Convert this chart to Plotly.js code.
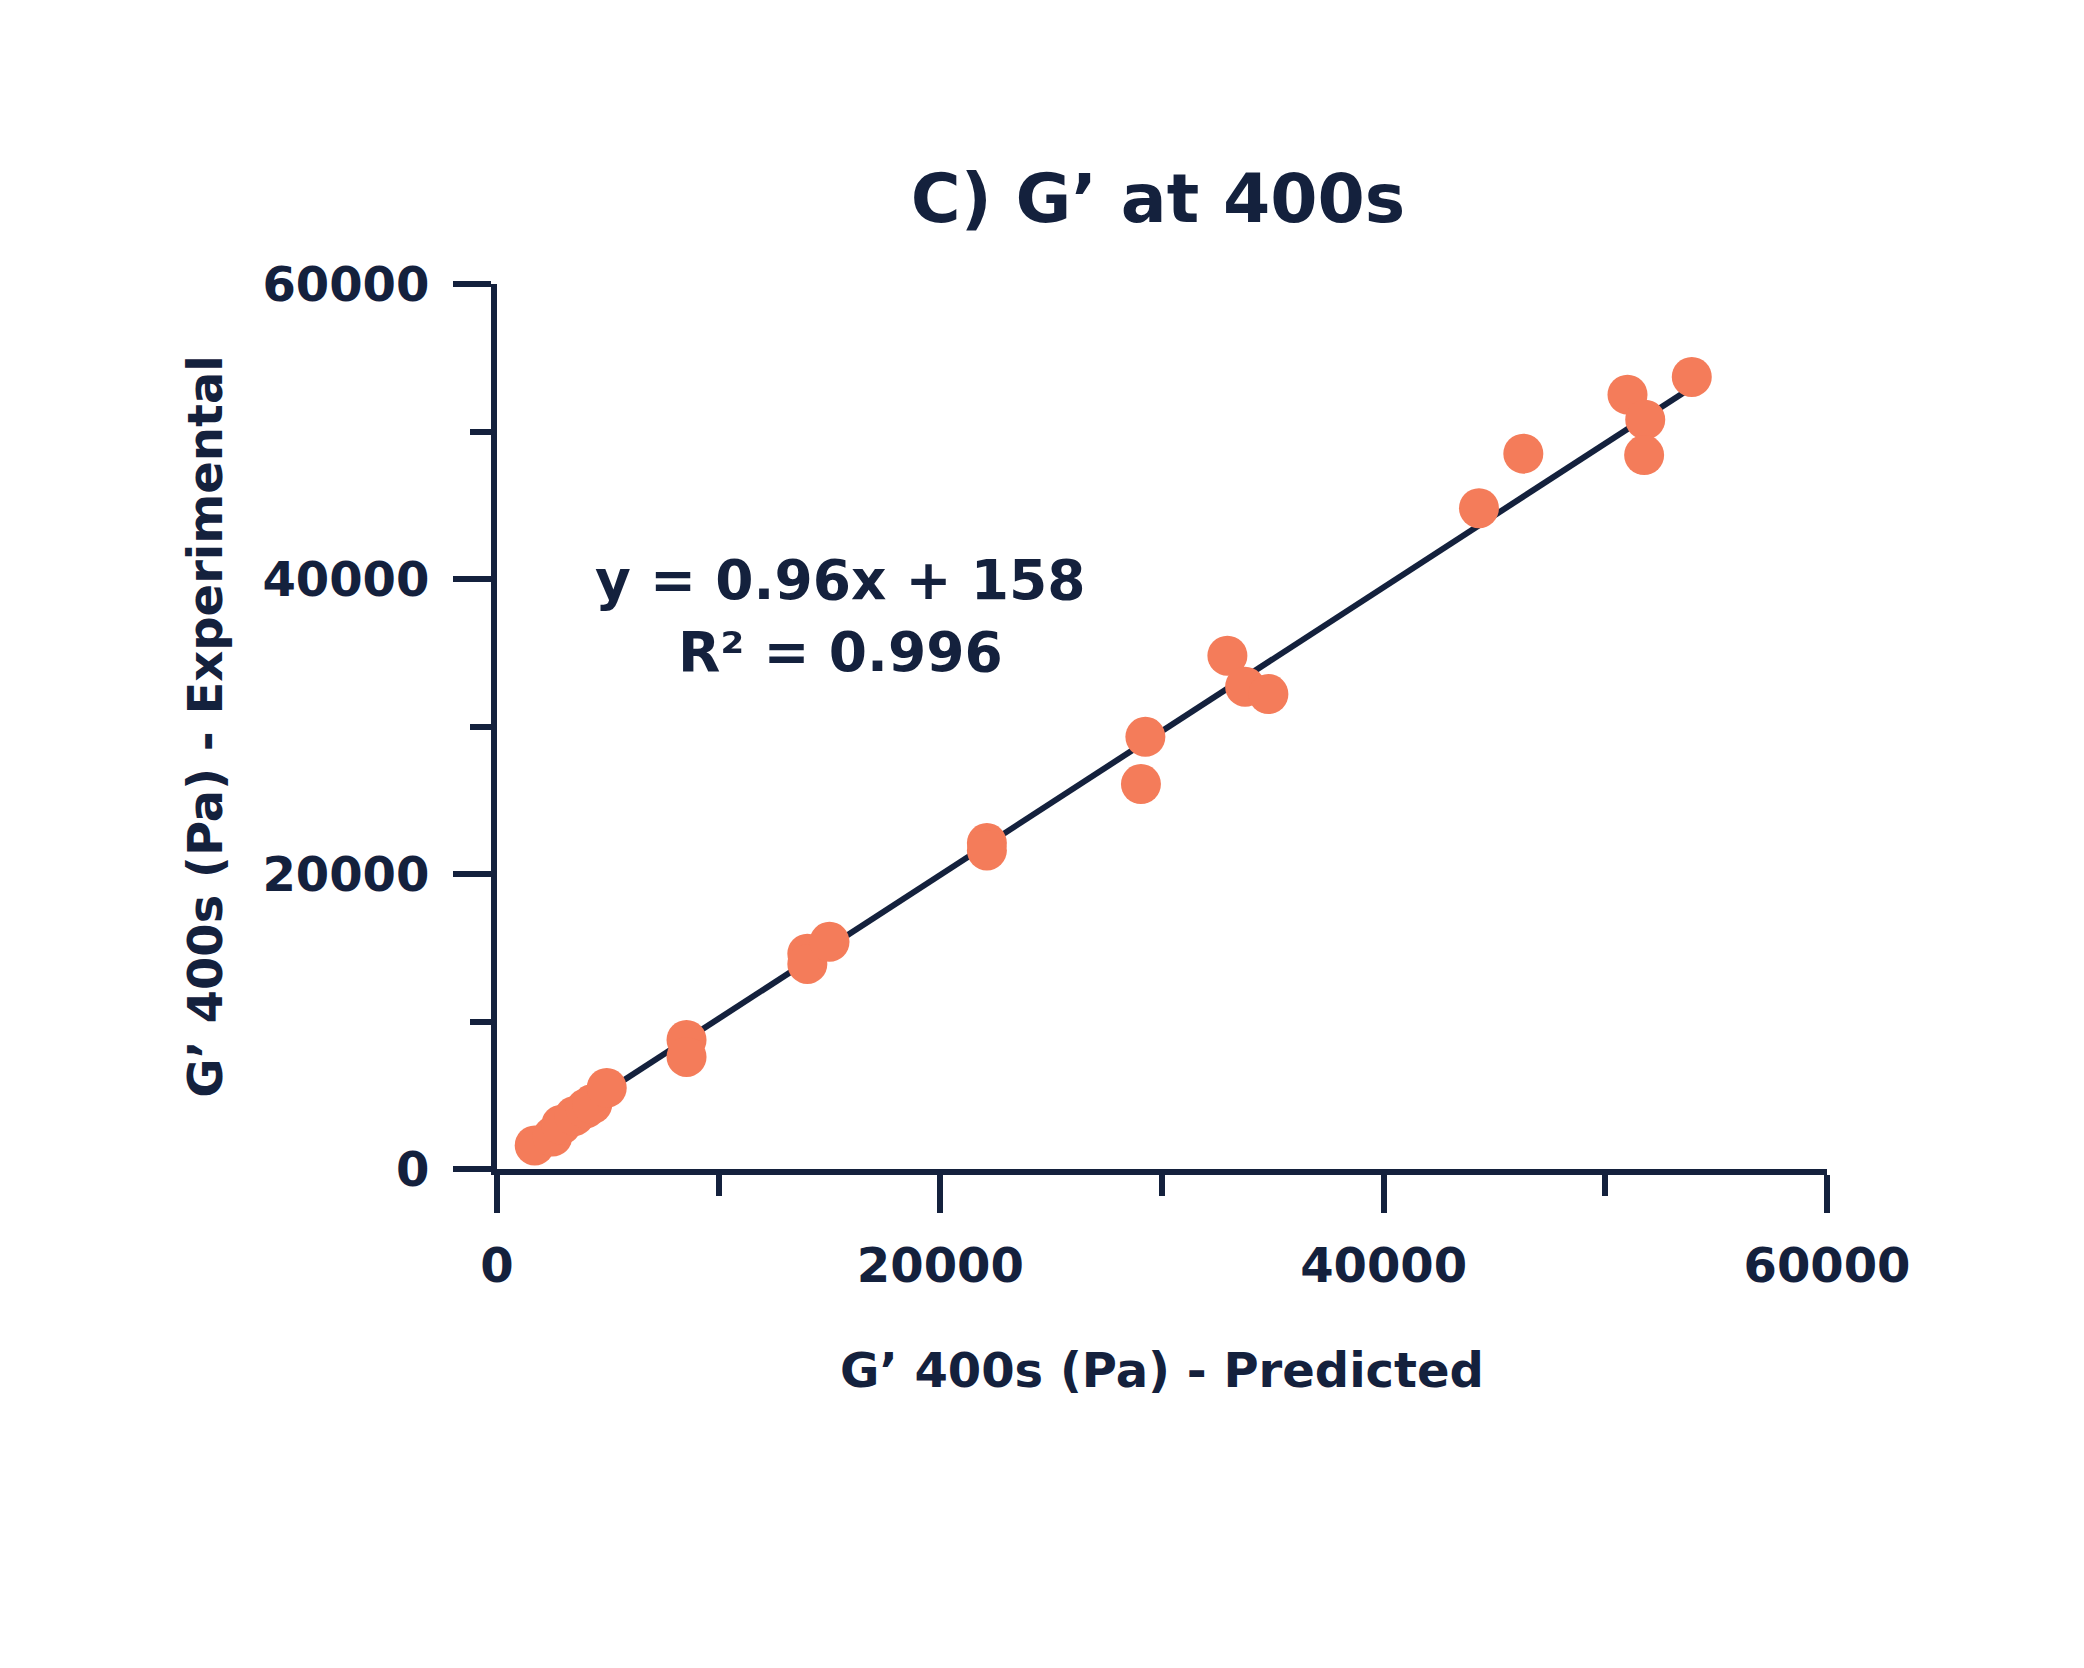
<!DOCTYPE html>
<html>
<head>
<meta charset="utf-8">
<script src="https://cdn.plot.ly/plotly-3.0.1.min.js"></script>
<style>
  html, body { margin: 0; padding: 0; background: #ffffff; }
  #chart { width: 2084px; height: 1668px; }
</style>
</head>
<body>
<div id="chart"></div>
<script>
// G' at 400s, predicted vs experimental (Pa)
var predicted = [
    1700, 2500, 2900, 3500, 4000, 4300, 4950,
    8550, 8550,
    14000, 14000, 15000,
    22100, 22100,
    29250, 29050,
    32950, 33750, 34800,
    44300, 46300, 51000, 51800, 51750, 53900
];
var experimental = [
    1600, 2200, 3000, 3600, 4100, 4400, 5500,
    8750, 7600,
    14600, 13900, 15400,
    22100, 21600,
    29300, 26100,
    34800, 32700, 32200,
    44800, 48500, 52500, 50800, 48400, 53700
];

// trend line as drawn in the picture
var fitX = [1700, 53650];
var fitY = [2100, 52750];

var fitLabel = 'y = 0.96x + 158<br>R² = 0.996';

var navy = '#14213d';
var coral = '#f47c5a';
var fontFamily = '"DejaVu Sans", "Open Sans", sans-serif';

var traceFit = {
    x: fitX,
    y: fitY,
    type: 'scatter',
    mode: 'lines',
    line: { color: navy, width: 6 },
    hoverinfo: 'skip',
    cliponaxis: false
};

var tracePoints = {
    x: predicted,
    y: experimental,
    type: 'scatter',
    mode: 'markers',
    marker: { color: coral, size: 40, line: { width: 0 } },
    cliponaxis: false
};

var axisCommon = {
    range: [0, 60000],
    dtick: 20000,
    tick0: 0,
    tickformat: 'd',
    showgrid: false,
    zeroline: false,
    showline: true,
    linecolor: navy,
    linewidth: 6,
    ticks: 'outside',
    ticklen: 38,
    tickwidth: 6,
    tickcolor: navy,
    minor: { dtick: 10000, tick0: 0, ticks: 'outside', ticklen: 21, tickwidth: 6, tickcolor: navy, showgrid: false },
    tickfont: { family: fontFamily, size: 48, color: navy, weight: 'bold' },
    fixedrange: true
};

var layout = {
    width: 2084,
    height: 1668,
    margin: { l: 497, r: 257, t: 284, b: 499 },
    paper_bgcolor: '#ffffff',
    plot_bgcolor: '#ffffff',
    showlegend: false,
    title: {
        text: 'C) G’ at 400s',
        font: { family: fontFamily, size: 68, color: navy, weight: 'bold' },
        xref: 'container',
        yref: 'container',
        x: 0.5557,
        xanchor: 'center',
        y: 1 - 198 / 1668,
        yanchor: 'middle'
    },
    xaxis: Object.assign({}, axisCommon, {
        ticklabelstandoff: 11,
        title: {
            text: 'G’ 400s (Pa) - Predicted',
            font: { family: fontFamily, size: 48, color: navy, weight: 'bold' },
            standoff: 64
        }
    }),
    yaxis: Object.assign({}, axisCommon, {
        ticklabelstandoff: 14,
        title: {
            text: 'G’ 400s (Pa) - Experimental',
            font: { family: fontFamily, size: 48, color: navy, weight: 'bold' },
            standoff: 27
        }
    }),
    annotations: [{
        x: 15480,
        y: 37500,
        xref: 'x',
        yref: 'y',
        text: fitLabel,
        showarrow: false,
        align: 'center',
        xanchor: 'center',
        yanchor: 'middle',
        font: { family: fontFamily, size: 55, color: navy, weight: 'bold' }
    }]
};

Plotly.newPlot('chart', [traceFit, tracePoints], layout, { displayModeBar: false, staticPlot: true });
</script>
</body>
</html>
